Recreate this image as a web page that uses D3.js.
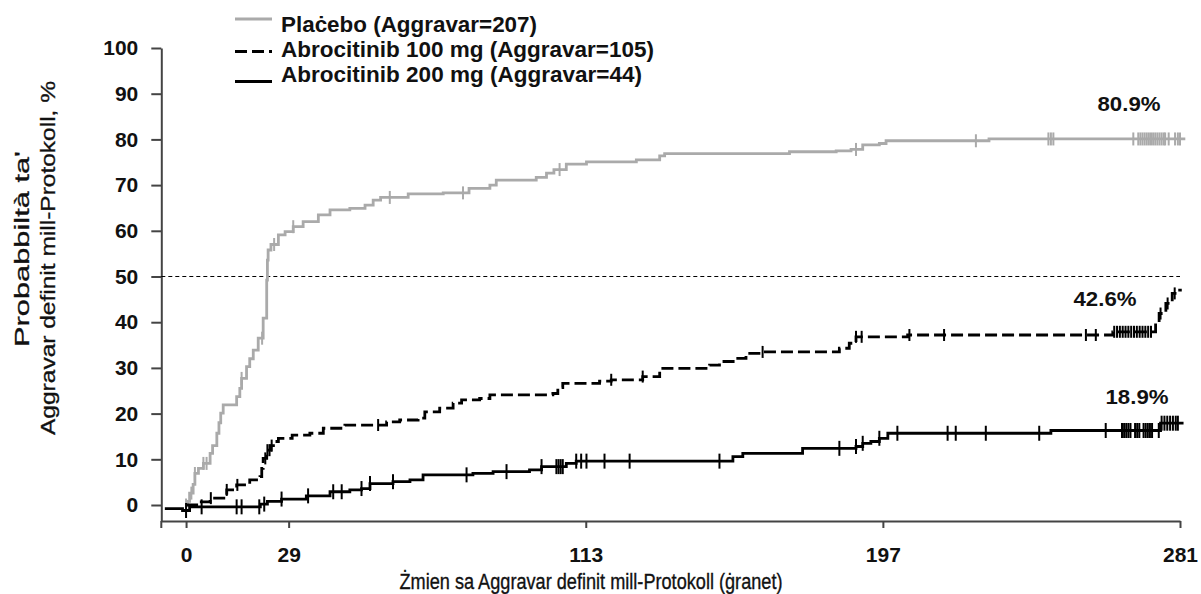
<!DOCTYPE html>
<html><head><meta charset="utf-8">
<script src="https://cdn.jsdelivr.net/npm/d3@7"></script>
<style>
html,body{margin:0;padding:0;background:#fff;}
svg{display:block;font-family:"Liberation Sans",Arial,sans-serif;}
</style></head>
<body><svg id="c" width="1201" height="594"></svg>
<script>
// ---------- data ----------
const xTicks = [0, 29, 113, 197, 281];
const yTicks = [0,10,20,30,40,50,60,70,80,90,100];
const seriesNames = ["Plaċebo (Aggravar=207)", "Abrocitinib 100 mg (Aggravar=105)", "Abrocitinib 200 mg (Aggravar=44)"];
const endLabels = ["80.9%", "42.6%", "18.9%"];
const referenceLevel = 50;

// [day, cumulative probability %] (step after)
const placebo = [[0,0],[0.5,0.8],[1,2.6],[2,4.5],[2.5,6.9],[3.5,8],[4.9,9.1],[6.8,11.3],[7.5,13],[8.7,15.7],[9.3,18],
 [9.8,20.1],[10.5,21.9],[14.3,23.7],[15.2,25.5],[15.7,27.7],[17.1,30.3],[18,32],[19,33.9],[20.4,36.5],[21.8,40.9],
 [22.8,49.2],[23,53.6],[23.2,55.8],[24,57],[26.1,59.1],[28,59.8],[30.3,60.9],[33.1,62],[37.4,63.5],[40.7,64.6],
 [46.3,64.9],[50.6,65.6],[52.9,66.7],[55,67.3],[62.8,68.1],[72.7,68.3],[80,69.3],[85.9,70],[87.7,71.1],[99,71.7],
 [101.9,72.6],[104,73.4],[107.5,74.6],[113.2,75.1],[127.3,75.5],[133.9,76.4],[135.3,76.9],[170.6,77.3],[183.8,77.5],
 [188,77.8],[191.3,78.8],[196,79.1],[197.9,79.7],[227,80.1],[282.5,80.1]];
const placeboCensor = [0,1.5,2.5,4.9,5.8,15.7,21.5,24.9,30.3,57.6,78.3,105.6,189.4,223.3,243.8,244.5,245.2,
 267.8,269.2,269.8,270.4,271,271.6,272.2,272.8,273.4,274,274.6,275.2,275.8,276.4,276.8,277.8,279.6,280.4,281];

const abro100 = [[0,0],[3,0.7],[6.8,1.5],[11.5,3.3],[14.3,4.4],[18,5.5],[20.9,6.2],[21.4,8],[21.8,10.2],[22.8,12],
 [24,13],[24.7,13.9],[26.1,14.6],[30,15.3],[35,15.7],[38.8,16.8],[44.9,17.5],[56.7,18.2],[60.4,18.6],[65.6,19],
 [67.5,20.4],[71.7,21.2],[75.5,22.3],[77.9,23],[83,23.3],[85.9,24.1],[103.7,24.4],[105.1,25.7],[106.5,26.6],
 [116.9,27.1],[120.2,27.4],[129.1,28.1],[133.9,29.9],[148,30.6],[150.8,31.4],[155.5,32.1],[158.3,33.2],[163,33.5],
 [184.7,34.3],[187.5,35.4],[189.4,36.8],[204,37.2],[262,37.9],[274.1,39.8],[275.1,41.9],[277,44.1],[278.8,46.3],
 [280.2,47],[281.5,47]];
const abro100Censor = [7,11.5,14.5,22.4,23,23.6,24.2,54.3,120.2,129.1,163,189.4,191,204.5,214.3,254.4,257.2,
 262.4,263.2,264,264.8,265.6,266.4,267.2,268,268.8,269.6,270.4,271.2,272,272.8,275.5,277.5,279.5];

const abro200 = [[-6,-0.8],[-1,-1.2],[1,-0.4],[21,0.2],[23,0.8],[27,1.3],[34,2],[40.7,2.9],[46.3,3.3],[49.6,3.6],
 [52,4.7],[58.5,5.1],[63.3,5.5],[67,6.6],[81.1,6.9],[86.8,7.3],[97.1,7.7],[100.5,8.4],[107.5,9.1],[110.3,9.6],
 [154.6,10.6],[157.4,11.3],[174.3,12.4],[189.4,12.8],[191.3,13.5],[193.6,13.9],[196,14.6],[198.4,15.7],[244.5,16.3],
 [275.5,17.9],[282,17.9]];
const abro200Censor = [0,4.4,14.3,15.7,20.7,22.1,27,34.5,41.6,44,49.6,52,58.5,79.3,90.6,100.5,104.7,105.3,105.9,
 106.5,110.3,111.7,113.2,118.3,125.4,150.8,184.7,189.4,191.3,196,201.1,215.3,217.6,226.1,241.2,260,
 264.6,265.2,265.8,266.4,267,268.3,268.9,269.5,270.7,271.3,271.9,272.5,273.1,275,275.8,276.6,277.4,278.2,279,279.8,280.4];

// ---------- drawing ----------
const svg = d3.select("#c");
const x = d3.scaleLinear().domain([-7, 281]).range([161.3, 1180]);
const y = d3.scaleLinear().domain([-3.5, 100]).range([521, 48]);

const styles = [
  {color:"#aaaaaa", dash:null, width:2.8, tick:6.5},
  {color:"#000", dash:"12,5", width:2.8, tick:6},
  {color:"#000", dash:null, width:2.8, tick:7.5}
];
const curves = [placebo, abro100, abro200];
const censors = [placeboCensor, abro100Censor, abro200Censor];
const FONT = '"Liberation Sans",Arial,sans-serif';

// axes
const yAxis = d3.axisLeft(y).tickValues(yTicks).tickSize(10).tickSizeOuter(0).tickPadding(13);
const gy = svg.append("g").attr("transform", `translate(${x(-7)},0)`).call(yAxis);
const xAxis = d3.axisBottom(x).tickValues(xTicks).tickSize(7).tickSizeOuter(0).tickPadding(19);
const gx = svg.append("g").attr("transform", `translate(0,${y(-3.5)})`).call(xAxis);
[gx, gy].forEach(g => {
  g.select(".domain").attr("stroke", "#444").attr("stroke-width", 2);
  g.selectAll(".tick line").attr("stroke", "#444").attr("stroke-width", 2);
  g.selectAll(".tick text").attr("fill", "#111").attr("font-size", 21).attr("font-weight", "bold")
    .attr("font-family", FONT);
});
// y axis short extension below x axis
svg.append("line").attr("x1", x(-7)).attr("x2", x(-7)).attr("y1", y(-3.5)).attr("y2", y(-3.5) + 7)
  .attr("stroke", "#444").attr("stroke-width", 2);

// reference line at 50%
svg.append("line").attr("x1", x(-7)).attr("x2", x(281)).attr("y1", y(referenceLevel)).attr("y2", y(referenceLevel))
  .attr("stroke", "#000").attr("stroke-width", 1.2).attr("stroke-dasharray", "4,3");

const line = d3.line().x(d => x(d[0])).y(d => y(d[1])).curve(d3.curveStepAfter);
function valueAt(curve, day) {
  let v = curve[0][1];
  for (const p of curve) { if (p[0] <= day) v = p[1]; else break; }
  return v;
}

curves.forEach((c, i) => {
  const s = styles[i];
  svg.append("path").datum(c).attr("d", line).attr("fill", "none").attr("stroke", s.color)
    .attr("stroke-width", s.width).attr("stroke-dasharray", s.dash);
  svg.append("g").selectAll("line").data(censors[i]).join("line")
    .attr("x1", d => x(d)).attr("x2", d => x(d))
    .attr("y1", d => y(valueAt(c, d)) - s.tick).attr("y2", d => y(valueAt(c, d)) + s.tick)
    .attr("stroke", s.color).attr("stroke-width", 2);
});

// end labels
const labelPos = [[1129, 111], [1105, 306], [1137, 404]];
endLabels.forEach((t, i) => {
  svg.append("text").attr("x", labelPos[i][0]).attr("y", labelPos[i][1]).attr("text-anchor", "middle")
    .attr("font-size", 21).attr("font-weight", "bold").attr("fill", "#111")
    .attr("textLength", 63).attr("lengthAdjust", "spacingAndGlyphs").text(t);
});

// legend
const legY = [19, 51.5, 81.5];
const legBase = [31.5, 57, 82];
const legLen = [256, 373, 361];
seriesNames.forEach((n, i) => {
  const s = styles[i];
  svg.append("line").attr("x1", 235).attr("x2", 272).attr("y1", legY[i]).attr("y2", legY[i])
    .attr("stroke", s.color).attr("stroke-width", 2.8).attr("stroke-dasharray", s.dash);
  svg.append("text").attr("x", 281).attr("y", legBase[i]).attr("font-size", 22).attr("font-weight", "bold")
    .attr("fill", "#111").attr("textLength", legLen[i]).attr("lengthAdjust", "spacingAndGlyphs").text(n);
});

// axis titles
svg.append("text").attr("x", 591).attr("y", 589).attr("text-anchor", "middle").attr("font-size", 22)
  .attr("fill", "#111").attr("stroke", "#111").attr("stroke-width", 0.35)
  .attr("textLength", 383).attr("lengthAdjust", "spacingAndGlyphs")
  .text("Żmien sa Aggravar definit mill-Protokoll (ġranet)");
svg.append("text").attr("transform", "translate(29,249) rotate(-90)").attr("text-anchor", "middle")
  .attr("font-size", 21).attr("fill", "#111").attr("stroke", "#111").attr("stroke-width", 0.3)
  .attr("textLength", 196).attr("lengthAdjust", "spacingAndGlyphs")
  .text("Probabbiltà ta'");
svg.append("text").attr("transform", "translate(55,258) rotate(-90)").attr("text-anchor", "middle")
  .attr("font-size", 21).attr("fill", "#111").attr("stroke", "#111").attr("stroke-width", 0.3)
  .attr("textLength", 354).attr("lengthAdjust", "spacingAndGlyphs")
  .text("Aggravar definit mill-Protokoll, %");
</script></body></html>
